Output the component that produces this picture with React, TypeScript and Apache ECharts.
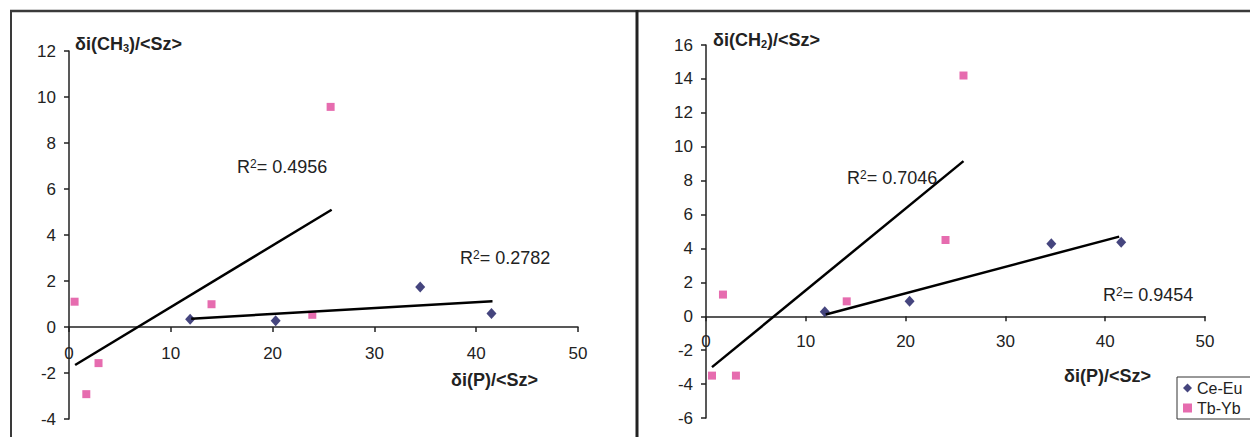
import React, { useEffect, useRef } from "react";
import * as echarts from "echarts";

// Data
const seriesNames = ["Ce-Eu", "Tb-Yb"];
const xTicks = { min: 0, max: 50, interval: 10 };
const yTicksCH3 = { min: -4, max: 12, interval: 2 };
const yTicksCH2 = { min: -6, max: 16, interval: 2 };

const ceEuCH3 = [[11.9, 0.34], [20.3, 0.27], [34.5, 1.74], [41.5, 0.59]];
const tbYbCH3 = [[0.55, 1.1], [1.7, -2.92], [2.9, -1.57], [14.0, 0.99], [23.9, 0.53], [25.7, 9.57]];
const ceEuCH2 = [[11.9, 0.27], [20.4, 0.88], [34.6, 4.28], [41.6, 4.36]];
const tbYbCH2 = [[0.6, -3.5], [1.7, 1.28], [3.0, -3.5], [14.1, 0.88], [24.0, 4.5], [25.8, 14.2]];

// Trendline end points
const trendTbYbCH3 = [[0.6, -1.65], [25.8, 5.1]];
const trendCeEuCH3 = [[12.0, 0.36], [41.6, 1.12]];
const trendTbYbCH2 = [[0.6, -3.0], [25.8, 9.15]];
const trendCeEuCH2 = [[12.0, 0.1], [41.4, 4.7]];

const r2Labels = ["0.4956", "0.2782", "0.7046", "0.9454"];

const FONT = "'Liberation Sans', Arial, sans-serif";
const TXT = "#222";

const grids = [
  { left: 69, top: 51, width: 509, height: 368 },
  { left: 706, top: 45, width: 499, height: 373 },
];

function axisCommon(extra: any) {
  return {
    type: "value",
    splitLine: { show: false },
    axisLine: { show: true, onZero: false, lineStyle: { color: "#222", width: 1.5 } },
    axisTick: { show: true, length: 5, lineStyle: { color: "#222", width: 1.5 } },
    ...extra,
  };
}

// offset that lifts a bottom x axis from the grid's bottom edge to the y = 0 line
function zeroOffset(y: { min: number; max: number }, height: number) {
  return -((0 - y.min) / (y.max - y.min)) * height;
}

function richText(text: string, x: number, y: number, bold: boolean) {
  const w = bold ? "bold" : "normal";
  return {
    type: "text",
    x,
    y,
    silent: true,
    style: {
      text,
      align: "left",
      verticalAlign: "middle",
      rich: {
        a: { fontSize: 18, fontFamily: FONT, fontWeight: w, fill: TXT },
        sup: { fontSize: 12, fontFamily: FONT, fontWeight: w, fill: TXT, verticalAlign: "top" },
        sub: { fontSize: 11, fontFamily: FONT, fontWeight: w, fill: TXT, verticalAlign: "bottom" },
      },
    },
  };
}

export default function App() {
  const ref = useRef<HTMLDivElement>(null);
  useEffect(() => {
    if (!ref.current) return;
    const chart = echarts.init(ref.current, null, { renderer: "svg" });
    const scatterBase = (name: string, idx: number, data: number[][]) => ({
      type: "scatter",
      name,
      xAxisIndex: idx,
      yAxisIndex: idx,
      data,
      symbol: name === seriesNames[0] ? "diamond" : "rect",
      symbolSize: name === seriesNames[0] ? [10, 11] : 8,
      itemStyle: { color: name === seriesNames[0] ? "#16165e" : "#e0479b" },
      z: 3,
    });
    const trend = (idx: number, data: number[][]) => ({
      type: "line",
      name: "trend",
      xAxisIndex: idx,
      yAxisIndex: idx,
      data,
      symbol: "none",
      silent: true,
      lineStyle: { color: "#000", width: 2.5 },
      z: 4,
    });
    const labelStyle = (margin: number) => ({ margin, fontSize: 17, fontFamily: FONT, color: TXT });
    chart.setOption({
      animation: false,
      backgroundColor: "#ffffff",
      grid: grids.map((g) => ({ ...g, containLabel: false, outerBoundsMode: "none" })),
      xAxis: [
        axisCommon({
          gridIndex: 0,
          position: "bottom",
          offset: zeroOffset(yTicksCH3, grids[0].height),
          ...xTicks,
          axisLabel: labelStyle(18),
        }),
        axisCommon({
          gridIndex: 1,
          position: "bottom",
          offset: zeroOffset(yTicksCH2, grids[1].height),
          ...xTicks,
          axisLabel: labelStyle(17),
        }),
      ],
      yAxis: [
        axisCommon({ gridIndex: 0, ...yTicksCH3, axisLabel: labelStyle(13) }),
        axisCommon({ gridIndex: 1, ...yTicksCH2, axisLabel: labelStyle(13) }),
      ],
      legend: {
        data: [
          { name: seriesNames[0], icon: "diamond" },
          { name: seriesNames[1], icon: "rect" },
        ],
        orient: "vertical",
        left: 1177,
        top: 377,
        itemWidth: 9,
        itemHeight: 9,
        itemGap: 4,
        padding: [3, 40, 3, 6],
        borderColor: "#333",
        borderWidth: 1,
        backgroundColor: "#fff",
        selectedMode: false,
        textStyle: { fontSize: 16, fontFamily: FONT, color: TXT },
      },
      series: [
        scatterBase(seriesNames[0], 0, ceEuCH3),
        scatterBase(seriesNames[1], 0, tbYbCH3),
        scatterBase(seriesNames[0], 1, ceEuCH2),
        scatterBase(seriesNames[1], 1, tbYbCH2),
        trend(0, trendTbYbCH3),
        trend(0, trendCeEuCH3),
        trend(1, trendTbYbCH2),
        trend(1, trendCeEuCH2),
      ],
      graphic: [
        { type: "line", silent: true, shape: { x1: 10, y1: 11, x2: 1250, y2: 11 }, style: { stroke: "#3a3a3a", lineWidth: 2.5 } },
        { type: "line", silent: true, shape: { x1: 11, y1: 10, x2: 11, y2: 437 }, style: { stroke: "#3a3a3a", lineWidth: 2 } },
        { type: "line", silent: true, shape: { x1: 637, y1: 10, x2: 637, y2: 437 }, style: { stroke: "#222", lineWidth: 3 } },
        richText("{a|δi(CH}{sub|3}{a|)/<Sz>}", 75, 44, true),
        richText("{a|δi(CH}{sub|2}{a|)/<Sz>}", 713, 40, true),
        richText("{a|δi(P)/<Sz>}", 451, 380, true),
        richText("{a|δi(P)/<Sz>}", 1064, 376, true),
        richText(`{a|R}{sup|2}{a|= ${r2Labels[0]}}`, 237, 167, false),
        richText(`{a|R}{sup|2}{a|= ${r2Labels[1]}}`, 460, 258, false),
        richText(`{a|R}{sup|2}{a|= ${r2Labels[2]}}`, 847, 178, false),
        richText(`{a|R}{sup|2}{a|= ${r2Labels[3]}}`, 1103, 295, false),
      ],
    });
    return () => chart.dispose();
  }, []);
  return (
    <div
      ref={ref}
      style={{ position: "fixed", left: 0, top: 0, width: 1250, height: 437, background: "#fff" }}
    />
  );
}
